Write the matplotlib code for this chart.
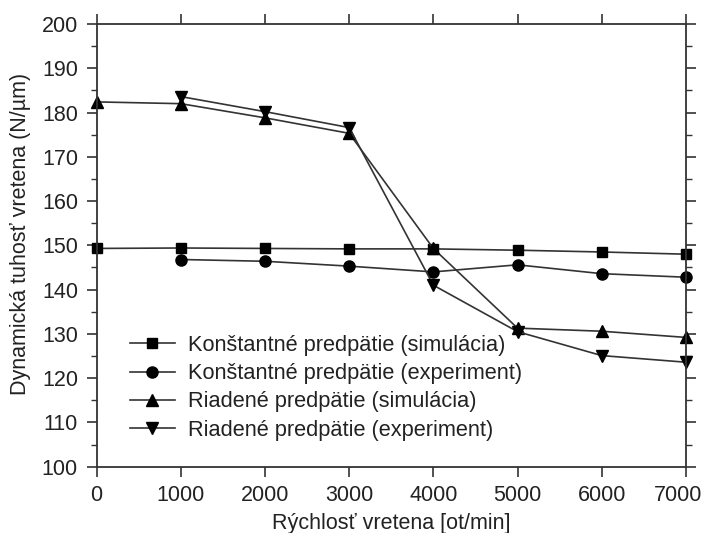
import matplotlib
matplotlib.use("Agg")
import matplotlib.pyplot as plt
import matplotlib.transforms as mtransforms
from matplotlib.ticker import MultipleLocator

plt.rcParams['font.family'] = ['Liberation Sans', 'DejaVu Sans']

speed_all = [0, 1000, 2000, 3000, 4000, 5000, 6000, 7000]
speed_exp = [1000, 2000, 3000, 4000, 5000, 6000, 7000]

konst_sim = [149.3, 149.4, 149.3, 149.2, 149.2, 148.9, 148.5, 148.0]
konst_exp = [146.8, 146.4, 145.3, 144.0, 145.6, 143.6, 142.8]
riad_sim = [182.4, 182.0, 178.8, 175.3, 149.3, 131.3, 130.6, 129.2]
riad_exp = [183.6, 180.2, 176.6, 141.0, 130.5, 125.1, 123.6]

labels = ["Konštantné predpätie (simulácia)",
          "Konštantné predpätie (experiment)",
          "Riadené predpätie (simulácia)",
          "Riadené predpätie (experiment)"]

xticks = [0, 1000, 2000, 3000, 4000, 5000, 6000, 7000]
yticks = [100, 110, 120, 130, 140, 150, 160, 170, 180, 190, 200]

fig = plt.figure(figsize=(7.02, 5.33), dpi=100)
ax = fig.add_axes([0.1377, 0.1244, 0.8393, 0.8306])

lc = '#333333'
kw = dict(color=lc, lw=1.2, markerfacecolor='black', markeredgecolor='black', clip_on=False)
ax.plot(speed_all, konst_sim, marker='s', ms=7, label=labels[0], **kw)
ax.plot(speed_exp, konst_exp, marker='o', ms=8, label=labels[1], **kw)
ax.plot(speed_all, riad_sim, marker='^', ms=8, label=labels[2], **kw)
ax.plot(speed_exp, riad_exp, marker='v', ms=8, label=labels[3], **kw)

ax.set_xlim(0, 7000)
ax.set_ylim(100, 200)
ax.set_xticks(xticks)
ax.set_yticks(yticks)
ax.yaxis.set_minor_locator(MultipleLocator(5))
ax.tick_params(axis='both', which='major', direction='out', length=7, width=1.2,
               labelsize=15.5, colors='#333333', labelcolor='#222222',
               top=True, right=True, labeltop=False, labelright=False, pad=6.5)
ax.tick_params(axis='y', which='minor', direction='out', length=4.5, width=1.0,
               colors='#333333', right=True, left=True)
for s in ax.spines.values():
    s.set_linewidth(1.3)
    s.set_color('#333333')

ax.set_xlabel("Rýchlosť vretena [ot/min]", fontsize=15.5, color='#222222')
ax.set_ylabel("Dynamická tuhosť vretena (N/µm)", fontsize=15.5, color='#222222')
ax.xaxis.set_label_coords(0.5, -0.105)
ax.yaxis.set_label_coords(-0.112, 0.525)

# nudge the last x tick label so it stays inside the figure
last = ax.get_xticklabels()[-1]
last.set_transform(last.get_transform() +
                   mtransforms.ScaledTranslation(-8 / 100, 0, fig.dpi_scale_trans))

leg = ax.legend(loc='upper left', bbox_to_anchor=(0.0565, 0.2975), frameon=False,
                fontsize=15.7, borderpad=0, borderaxespad=0, handlelength=2.06,
                handletextpad=0.6, labelspacing=0.33)
for t in leg.get_texts():
    t.set_color('#222222')

fig.savefig("out.png", dpi=100)
